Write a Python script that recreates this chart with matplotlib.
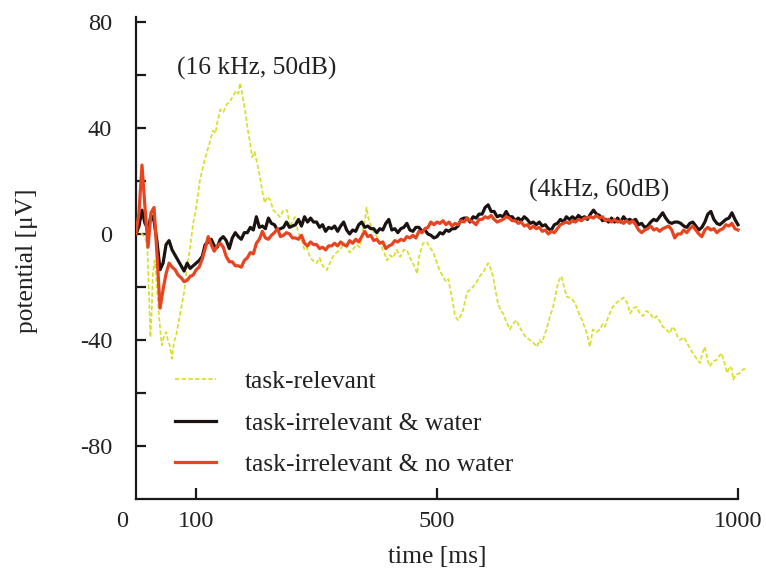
import numpy as np
import matplotlib
matplotlib.use("Agg")
import matplotlib.pyplot as plt

plt.rcParams['font.family'] = ['Liberation Serif', 'DejaVu Serif']
plt.rcParams['lines.scale_dashes'] = False

# ---------------- data ----------------
# task-irrelevant & water (black), sampled every 5 ms from 0 to 1000 ms
water = [0, 3, 9, 4, 2, 7, 5, -3, -13.5, -11,
         -4, -2.5, -6, -8, -10, -12, -14, -11, -13, -12,
         -11, -10, -8.5, -4, -3, -2, -4.5, -5, -2, -1,
         -2.5, -5.5, -1.5, 0.5, -1, -2, 0.5, 0.5, 2.5, 1.5,
         6.5, 2.5, 3, 2, 6, 4, 3.5, 1.5, 2, 2.5,
         4.5, 2.5, 3, 3.5, 5.5, 3, 6.5, 4.5, 6, 4.5,
         4.5, 2.5, 3.5, 1, 2.5, 2, 3, 1, 3, 4.5,
         1.5, 0, 1.5, 1, 3.5, 4.5, 2.5, 3, 2, 2,
         0.5, 2, 1.5, 4, 5.5, 1.5, 2, 0.5, 2, 2.5,
         4, 1.5, 1, 2.5, 2.5, 1, 1.5, 0, -0.5, -1.5,
         -1, 0.5, 0, 1.5, 1, 2, 2, 3, 5.5, 6,
         6, 4.5, 6.5, 6, 7.5, 7.5, 10, 11, 8.5, 8.5,
         6.5, 7, 6.5, 8.5, 6.5, 6.5, 5, 6, 5, 6.5,
         5.5, 4, 4.5, 3.5, 4.5, 3, 3.5, 2, 1.5, 3.5,
         4, 5.5, 4.5, 6.5, 5.5, 6.5, 5.5, 7, 6, 6.5,
         5.5, 7.5, 9, 7.5, 7, 5, 5.5, 4.5, 6, 4.5,
         6, 4.5, 6.5, 5, 5.5, 5, 5.5, 3.5, 4, 2.5,
         3, 4.5, 5.5, 5, 6.5, 8, 6, 4.5, 4, 4.5,
         4.5, 4, 3, 2.5, 4, 4.5, 3, 1.5, 2.5, 4.5,
         7.5, 8.5, 5.5, 4, 3.5, 4.5, 5.5, 6, 8, 5.5,
         3.5]

# task-irrelevant & no water (red), sampled every 5 ms from 0 to 1000 ms
no_water = [0, 8, 26, 10, -5, 8, 10, -8, -28, -21,
            -15, -11, -12.5, -13.5, -15.5, -16.5, -18, -17.5, -16, -15.5,
            -13.5, -12.5, -9.5, -5.5, -1, -4, -6.5, -4.5, -3.5, -5,
            -8.5, -10.5, -10.5, -12, -12, -12.5, -10, -9, -7, -7.5,
            -3.5, -2, 1, -1.5, -2, -0.5, 0.5, 2, -1, -0.5,
            0.5, 0, -1.5, -1.5, -2, -0.5, -3.5, -4.5, -3, -4,
            -4, -5.5, -5, -6, -4.5, -4.5, -3.5, -4.5, -3, -4,
            -4.5, -2.5, -3.5, -2, -3, -1, 1, -1, -0.5, -2.5,
            -2, -3.5, -3, -5.5, -4.5, -4, -2.5, -3, -2, -2.5,
            -1, -1.5, -0.5, -1.5, 1, 0.5, 2, 2.5, 4.5, 3.5,
            4.5, 4, 5, 3.5, 4.5, 3, 4, 3.5, 5, 4.5,
            6, 5, 4.5, 3.5, 5.5, 5.5, 6.5, 6, 7, 5.5,
            4.5, 5, 5.5, 6.5, 6, 5, 5, 4, 4.5, 3,
            3.5, 2, 3, 2, 2.5, 1, 1.5, 0, 1, 0.5,
            2, 3.5, 4, 4.5, 4, 5, 4.5, 5.5, 5, 6,
            6, 6.5, 6, 7, 6, 6.5, 5, 5.5, 4.5, 5.5,
            4.5, 5, 4, 5, 4, 5, 3.5, 1.5, 0.5, 1.5,
            2, 3, 1.5, 2, 1, 2, 2.5, 3, 1.5, -1.5,
            0, 0, 1.5, 0.5, 2, 3, 1.5, 0, -1, 1.5,
            2.5, 1.5, 2, 0.5, 1.5, 2, 3.5, 3, 4, 2,
            1.5]

# task-relevant (yellow dashed)
relevant_t = [0, 4, 8, 12, 16, 19, 22, 24, 26, 28, 31, 34, 38, 41, 43, 46, 50, 53, 56, 60,
              63, 67, 71, 76, 80, 85, 90, 95, 100, 106, 110, 114, 118, 123, 128, 132, 135, 140, 145, 151,
              156, 161, 166, 170, 173, 177, 181, 186, 189, 193, 197, 201, 206, 210, 214, 218, 223, 228, 233, 239,
              245, 251, 256, 260, 264, 268, 272, 276, 280, 284, 289, 294, 300, 305, 310, 317, 322, 327, 333, 339,
              344, 350, 355, 360, 366, 372, 377, 381, 383, 386, 389, 394, 400, 405, 410, 414, 417, 422, 427, 433,
              439, 445, 450, 455, 460, 464, 467, 470, 472, 477, 483, 488, 494, 500, 505, 510, 515, 519, 522, 525,
              528, 530, 535, 539, 543, 547, 550, 555, 560, 566, 571, 578, 585, 589, 593, 597, 601, 606, 610, 615,
              621, 626, 632, 637, 643, 648, 654, 660, 666, 670, 674, 679, 683, 688, 693, 697, 701, 704, 707, 711,
              716, 721, 726, 731, 736, 741, 745, 749, 754, 759, 765, 771, 775, 779, 785, 792, 798, 804, 810, 816,
              821, 826, 832, 837, 842, 848, 854, 860, 865, 870, 875, 881, 887, 891, 895, 900, 904, 910, 915, 920,
              925, 931, 937, 941, 945, 949, 953, 959, 965, 969, 973, 978, 982, 986, 990, 992, 997, 1003, 1009, 1015]
relevant_v = [0, 1, 0.5, -0.5, -2, -6, -25, -39, -30, -15, -10, -18, -30, -38, -42, -39, -37, -40, -42, -47,
              -41, -38, -33, -27, -22, -12, -5, 4, 10, 20, 24, 28, 31, 35, 39, 38, 42, 47, 46, 49,
              50, 52, 54, 53, 57, 52, 47, 39, 35, 29, 31, 27, 21.5, 16, 11.7, 14, 13, 9, 8, 6.4,
              9, 9, 2.6, 5, 6.4, 2, -1, -3, -6, -5, -8.7, -10, -11, -9, -12, -13.6, -11, -8.7, -7, -6,
              -4, -5, -7, -6, -4, -5, 1.5, 6, 10, 6, 4, 1, -1, -3, -6, -8, -10, -8, -9, -6,
              -8.6, -6, -6, -9, -11, -13, -15, -9, -7, -3.5, -3, -5, -7, -11, -14, -16, -18, -17, -21, -24,
              -28, -31, -32.5, -31, -29, -25, -22, -21, -20, -18, -16, -14, -11, -13, -16, -21, -26, -29, -30, -33,
              -36, -34, -32.5, -35, -37.5, -39, -40, -41, -42.6, -40, -41, -38, -35, -31, -27.5, -23, -18.5, -17, -16, -20,
              -23.8, -24, -25, -27, -30, -32.5, -35, -37.5, -42.6, -36, -37, -36, -34, -35, -31, -27.5, -26, -25, -24, -26,
              -30, -28, -27.5, -30, -31, -29, -30, -32, -31, -33, -35, -36, -37.5, -35, -36, -39, -40, -39, -41, -43,
              -45, -47, -48.7, -45, -42.6, -47, -50, -48, -47.5, -46, -45, -49, -52.5, -50, -51, -55, -53, -52.5, -51, -51]

labels = ["task-relevant", "task-irrelevant & water", "task-irrelevant & no water"]
x_ticks = [100, 500, 1000]
y_ticks = [-80, -40, 0, 40, 80]
y_minor = [-60, -20, 20, 60]
annotations = [("(16 kHz, 50dB)", 201, 62.5), ("(4kHz, 60dB)", 769, 16.5)]

# ---------------- plot ----------------
fig = plt.figure(figsize=(7.66, 5.74), dpi=100)
ax = fig.add_axes([0.1775, 0.1307, 0.8016, 0.831])

t_grid_w = np.linspace(0, 1000, len(water))
t_grid_n = np.linspace(0, 1000, len(no_water))

c_yel = '#d6df24'
c_blk = '#1b1311'
c_red = '#e8441f'
c_txt = '#222222'

ax.plot(relevant_t, relevant_v, color=c_yel, lw=1.2, dashes=(3.2, 1.6), label=labels[0], zorder=2)
ax.plot(t_grid_w, water, color=c_blk, lw=2.3, label=labels[1], zorder=3)
ax.plot(t_grid_n, no_water, color=c_red, lw=2.3, label=labels[2], zorder=4)

ax.set_xlim(0, 1020)
ax.set_ylim(-100, 80)

for s in ['top', 'right']:
    ax.spines[s].set_visible(False)
ax.spines['bottom'].set_bounds(0, 1000)
ax.spines['left'].set_bounds(-100, 82)
for s in ['bottom', 'left']:
    ax.spines[s].set_linewidth(1.6)
    ax.spines[s].set_color('#1a1a1a')

ax.set_xticks(x_ticks)
ax.set_xticklabels([str(v) for v in x_ticks])
ax.set_yticks(y_ticks)
ax.set_yticklabels([str(v) for v in y_ticks])
ax.set_yticks(y_minor, minor=True)
ax.tick_params(axis='x', direction='in', length=8, width=1.6, labelsize=17.6, pad=9, color='#1a1a1a',
               labelcolor=c_txt)
ax.tick_params(axis='y', which='both', direction='in', length=7, width=1.6, labelsize=17.6, pad=17,
               color='#1a1a1a', labelcolor=c_txt)

# origin label, on the same row as the x tick labels
ax.annotate("0", xy=(0, 0), xycoords='axes fraction', xytext=(-10, -9), textcoords='offset points',
            ha='center', va='top', fontsize=17.6, color=c_txt)

for txt, tx, ty in annotations:
    ax.text(tx, ty, txt, ha='center', va='center', fontsize=18.4, color=c_txt)

ax.set_xlabel("time [ms]", fontsize=18.4, color=c_txt)
ax.set_ylabel("potential [μV]", fontsize=18.4, color=c_txt)
ax.xaxis.set_label_coords(0.49, -0.098)
ax.yaxis.set_label_coords(-0.16, 0.5)

leg = ax.legend(loc='upper left', bbox_to_anchor=(0.0635, 0.27), frameon=False, fontsize=18.4,
                handlelength=1.6, handletextpad=1.15, labelspacing=0.73, borderpad=0, borderaxespad=0)
for t in leg.get_texts():
    t.set_color(c_txt)

fig.savefig("out.png", dpi=100)
